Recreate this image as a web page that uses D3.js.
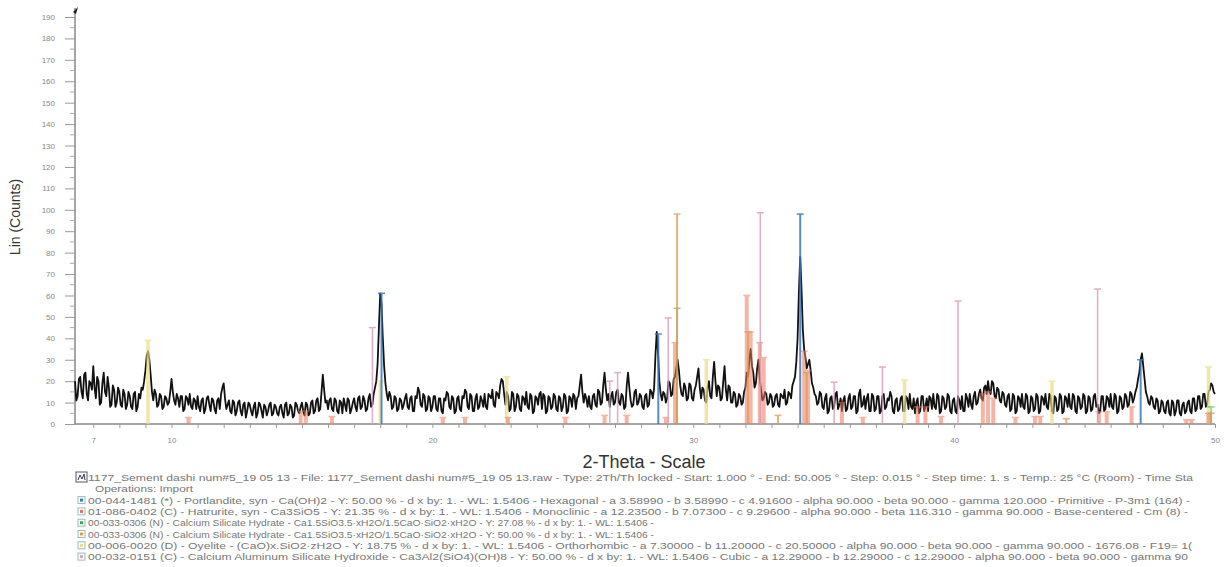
<!DOCTYPE html>
<html>
<head>
<meta charset="utf-8">
<script src="https://cdn.jsdelivr.net/npm/d3@7"></script>
<style>
  body { margin: 0; background: #fff; }
  text { font-family: "Liberation Sans", Arial, sans-serif; }
</style>
</head>
<body>
<div id="chart"></div>
<script>
const width = 1232, height = 567;

const twoThetaStart = 6.3, twoThetaStep = 0.1;
// counts at 6.3, 6.4, ... 50.0
const counts = [
  20, 13, 22, 12, 24, 11, 19,
  27, 12, 20, 10, 24, 13, 17, 9, 16, 10,
  15, 8, 14, 9, 13, 7, 15, 8, 12, 16,
  25, 34, 23, 11, 14, 9, 13, 8, 12, 10,
  21, 11, 14, 8, 13, 7, 12, 14, 7, 11,
  13, 6, 12, 7, 13, 6, 11, 5, 12, 14,
  19, 7, 11, 5, 10, 6, 11, 4, 10, 6,
  9, 4, 10, 5, 9, 3, 8, 6, 10, 5,
  8, 4, 9, 3, 10, 5, 8, 4, 9, 5,
  10, 4, 9, 5, 11, 6, 12, 7, 23, 10,
  7, 12, 6, 11, 5, 10, 12, 6, 11, 7,
  12, 6, 13, 8, 11, 7, 14, 9, 17, 28,
  61, 40, 19, 11, 13, 8, 12, 7, 11, 9,
  14, 7, 13, 6, 12, 15, 8, 13, 7, 12,
  8, 13, 6, 12, 5, 11, 14, 7, 12, 6,
  13, 6, 12, 15, 7, 13, 6, 14, 8, 11,
  14, 7, 13, 16, 8, 14, 18, 20, 9, 13,
  7, 14, 8, 13, 6, 12, 15, 7, 13, 6,
  12, 14, 7, 13, 6, 12, 8, 13, 6, 12,
  8, 13, 6, 12, 14, 7, 13, 23, 10, 12,
  13, 7, 14, 8, 15, 10, 24, 11, 8, 15,
  10, 16, 9, 13, 8, 24, 11, 9, 16, 10,
  13, 7, 14, 9, 15, 17, 43, 20, 11, 14,
  12, 19, 14, 22, 30, 18, 13, 17, 12, 18,
  11, 18, 26, 12, 16, 10, 20, 12, 29, 13,
  17, 12, 27, 11, 17, 10, 14, 9, 13, 10,
  17, 22, 35, 24, 19, 30, 16, 12, 14, 10,
  13, 9, 14, 8, 13, 16, 10, 14, 18, 22,
  40, 78, 44, 31, 28, 25, 17, 13, 10, 14,
  7, 14, 6, 13, 8, 15, 9, 6, 13, 7,
  14, 8, 13, 6, 16, 9, 7, 14, 6, 13,
  7, 13, 6, 14, 8, 11, 13, 5, 12, 7,
  13, 6, 12, 14, 7, 5, 12, 6, 13, 8,
  6, 12, 14, 7, 13, 6, 12, 8, 13, 5,
  12, 5, 11, 13, 6, 12, 14, 7, 15, 10,
  16, 11, 18, 20, 14, 19, 12, 16, 10, 14,
  8, 14, 7, 13, 6, 12, 14, 7, 13, 6,
  12, 7, 13, 6, 12, 14, 7, 13, 5, 12,
  7, 13, 6, 12, 14, 7, 13, 5, 12, 8,
  13, 6, 12, 7, 14, 9, 6, 13, 7, 12,
  14, 7, 13, 6, 12, 8, 13, 9, 14, 12,
  17, 24, 33, 21, 13, 9, 12, 7, 11, 6,
  10, 5, 11, 4, 10, 6, 11, 4, 10, 6,
  11, 5, 12, 7, 13, 8, 14, 9, 16, 18,
  14
];
// counts at 6.35, 6.45, ... 49.95
const countsHalf = [
  11, 21, 15, 23, 14, 20, 16,
  17, 22, 9, 19, 15, 22, 8, 18, 8, 17,
  9, 16, 7, 15, 8, 14, 6, 14, 17, 20,
  32, 30, 15, 16, 8, 14, 7, 13, 9, 15,
  15, 9, 12, 13, 6, 13, 9, 8, 12, 7,
  8, 11, 5, 12, 9, 12, 7, 11, 7, 17,
  12, 9, 6, 11, 4, 10, 6, 9, 3, 10,
  6, 8, 3, 10, 6, 9, 4, 9, 4, 9,
  5, 8, 5, 9, 4, 9, 3, 10, 6, 8,
  6, 10, 4, 10, 5, 11, 6, 15, 16, 11,
  11, 7, 12, 6, 11, 5, 9, 12, 5, 10,
  8, 12, 7, 13, 6, 12, 8, 14, 20, 45,
  56, 27, 14, 15, 7, 13, 6, 12, 7, 12,
  8, 12, 6, 13, 17, 9, 14, 6, 13, 6,
  13, 7, 12, 6, 12, 15, 8, 13, 5, 12,
  7, 13, 16, 8, 14, 6, 12, 7, 13, 8,
  8, 14, 12, 9, 15, 12, 21, 14, 15, 6,
  15, 6, 14, 7, 13, 9, 8, 14, 5, 13,
  9, 15, 14, 5, 13, 7, 14, 7, 13, 6,
  14, 5, 13, 8, 13, 12, 18, 15, 14, 8,
  8, 13, 9, 16, 9, 18, 16, 14, 13, 9,
  15, 10, 14, 7, 18, 17, 8, 15, 9, 14,
  8, 13, 8, 16, 12, 32, 33, 14, 15, 10,
  20, 13, 21, 26, 25, 14, 19, 11, 19, 12,
  16, 22, 17, 17, 11, 17, 13, 22, 20, 18,
  11, 20, 16, 18, 10, 15, 8, 14, 9, 15,
  24, 30, 27, 17, 26, 21, 11, 15, 9, 14,
  8, 13, 9, 14, 12, 9, 15, 12, 20, 29,
  62, 63, 35, 26, 30, 19, 14, 9, 15, 8,
  12, 5, 12, 7, 14, 7, 12, 11, 6, 12,
  7, 13, 5, 14, 8, 13, 12, 6, 14, 6,
  13, 5, 13, 7, 12, 15, 6, 11, 6, 12,
  6, 13, 7, 8, 12, 10, 5, 13, 6, 12,
  13, 7, 8, 14, 5, 13, 7, 14, 6, 11,
  6, 13, 7, 6, 14, 8, 9, 13, 9, 14,
  12, 17, 14, 15, 20, 13, 17, 11, 15, 9,
  13, 6, 14, 5, 13, 8, 8, 14, 5, 13,
  6, 14, 5, 13, 9, 8, 14, 6, 13, 6,
  14, 5, 13, 8, 8, 14, 6, 13, 7, 14,
  5, 13, 6, 13, 8, 5, 13, 6, 13, 8,
  8, 14, 5, 13, 7, 14, 8, 15, 10, 15,
  21, 30, 27, 15, 10, 13, 8, 12, 5, 11,
  6, 10, 5, 11, 4, 11, 5, 9, 5, 10,
  6, 12, 6, 13, 7, 14, 8, 15, 19, 15
];

// reference patterns: [2-Theta, height]
const portlandite = [[18.05, 61], [28.66, 42], [34.1, 98], [47.15, 30]];
const hatrurite = [[10.65, 3], [14.95, 6], [15.15, 6], [16.15, 3.5], [20.4, 3], [21.25, 3], [22.9, 3],
  [25.1, 3], [26.6, 4], [27.45, 4], [28.95, 3], [29.3, 38], [32.05, 60], [32.2, 43], [32.55, 38],
  [32.7, 31], [34.25, 34], [34.4, 25], [35.7, 10], [36.5, 3], [38.6, 8], [38.9, 8], [39.5, 3.5],
  [41.1, 14], [41.3, 15], [41.5, 12], [42.35, 3], [43.1, 3.5], [43.3, 3.5], [45.55, 5.7],
  [45.85, 5.7], [46.8, 8], [48.9, 2], [49.1, 2], [49.75, 5]];
const csh27 = [[29.38, 54], [49.85, 8]];
const csh50 = [[29.38, 98], [32.1, 43], [33.25, 4], [34.35, 24], [44.3, 2.5], [49.85, 5]];
const oyelite = [[9.1, 39], [18.0, 20], [22.85, 22], [30.5, 30], [38.1, 20.5], [43.75, 20], [49.75, 26.6]];
const cash = [[17.7, 45], [26.8, 20], [27.1, 24], [29.04, 49.5], [32.57, 98.6], [35.4, 19.5],
  [37.25, 26.6], [40.15, 57.4], [45.5, 63]];

const yTicks = d3.range(0, 191, 10);
const xTicks = d3.range(7, 51, 1);
const xLabels = [7, 10, 20, 30, 40, 50];

const legendLines = [
  "1177_Sement dashi num#5_19 05 13 - File: 1177_Sement dashi num#5_19 05 13.raw - Type: 2Th/Th locked - Start: 1.000 \u00b0 - End: 50.005 \u00b0 - Step: 0.015 \u00b0 - Step time: 1. s - Temp.: 25 \u00b0C (Room) - Time Sta",
  "Operations: Import",
  "00-044-1481 (*) - Portlandite, syn - Ca(OH)2 - Y: 50.00 % - d x by: 1. - WL: 1.5406 - Hexagonal - a 3.58990 - b 3.58990 - c 4.91600 - alpha 90.000 - beta 90.000 - gamma 120.000 - Primitive - P-3m1 (164) -",
  "01-086-0402 (C) - Hatrurite, syn - Ca3SiO5 - Y: 21.35 % - d x by: 1. - WL: 1.5406 - Monoclinic - a 12.23500 - b 7.07300 - c 9.29600 - alpha 90.000 - beta 116.310 - gamma 90.000 - Base-centered - Cm (8) -",
  "00-033-0306 (N) - Calcium Silicate Hydrate - Ca1.5SiO3.5\u00b7xH2O/1.5CaO\u00b7SiO2\u00b7xH2O - Y: 27.08 % - d x by: 1. - WL: 1.5406 -",
  "00-033-0306 (N) - Calcium Silicate Hydrate - Ca1.5SiO3.5\u00b7xH2O/1.5CaO\u00b7SiO2\u00b7xH2O - Y: 50.00 % - d x by: 1. - WL: 1.5406 -",
  "00-006-0020 (D) - Oyelite - (CaO)x.SiO2\u00b7zH2O - Y: 18.75 % - d x by: 1. - WL: 1.5406 - Orthorhombic - a 7.30000 - b 11.20000 - c 20.50000 - alpha 90.000 - beta 90.000 - gamma 90.000 - 1676.08 - F19=  1(",
  "00-032-0151 (C) - Calcium Aluminum Silicate Hydroxide - Ca3Al2(SiO4)(OH)8 - Y: 50.00 % - d x by: 1. - WL: 1.5406 - Cubic - a 12.29000 - b 12.29000 - c 12.29000 - alpha 90.000 - beta 90.000 - gamma 90"
];

const svg = d3.select("#chart").append("svg")
    .attr("width", width)
    .attr("height", height);

const x = d3.scaleLinear().domain([6.3, 50]).range([75, 1215]);
const y = d3.scaleLinear().domain([0, 190]).range([424, 17]);

// y axis with minor ticks every 5
const yAxis = svg.append("g")
    .attr("transform", `translate(${x(6.3)},0)`)
    .call(d3.axisLeft(y).tickValues(yTicks).tickSize(10).tickPadding(10));
yAxis.select(".domain").attr("stroke", "#888").attr("stroke-width", 1.5).attr("d", `M0,${y(0)}V8`);
yAxis.selectAll(".tick line").attr("stroke", "#999");
yAxis.selectAll(".tick text").attr("fill", "#888").style("font-size", "8px");
yAxis.selectAll(".minor")
    .data(d3.range(5, 190, 10))
    .enter().append("line")
    .attr("class", "minor")
    .attr("x1", -5).attr("x2", 0)
    .attr("y1", d => y(d)).attr("y2", d => y(d))
    .attr("stroke", "#aaa");
svg.append("path")
    .attr("d", `M${x(6.3) - 2},12L${x(6.3) + 3},7L${x(6.3) + 1},14Z`)
    .attr("fill", "#222");

const xAxis = svg.append("g")
    .attr("transform", `translate(0,${y(0)})`)
    .call(d3.axisBottom(x).tickValues(xTicks).tickSize(4).tickPadding(9)
        .tickFormat(d => xLabels.includes(d) ? d : ""));
xAxis.select(".domain").attr("stroke", "#888").attr("stroke-width", 1.5).attr("d", `M${x(6.3)},0H${x(50)}`);
xAxis.selectAll(".tick line").attr("stroke", "#999");
xAxis.selectAll(".tick text").attr("fill", "#888").style("font-size", "8px");

// measured scan, both halves of the grid merged in order
const scan = [];
counts.forEach((c, i) => {
    scan.push([twoThetaStart + i * twoThetaStep, c]);
    if (i < countsHalf.length) scan.push([twoThetaStart + (i + 0.5) * twoThetaStep, countsHalf[i]]);
});
svg.append("path")
    .datum(scan)
    .attr("fill", "none")
    .attr("stroke", "#111")
    .attr("stroke-width", 1.8)
    .attr("stroke-linejoin", "round")
    .attr("d", d3.line().x(d => x(d[0])).y(d => y(d[1])));

// stick patterns of the matched phases
function drawSticks(data, color, w, opacity) {
    const g = svg.append("g").attr("opacity", opacity);
    g.selectAll("line.stick")
        .data(data)
        .enter().append("line")
        .attr("x1", d => x(d[0])).attr("x2", d => x(d[0]))
        .attr("y1", y(0)).attr("y2", d => y(d[1]))
        .attr("stroke", color).attr("stroke-width", w);
    g.selectAll("line.cap")
        .data(data)
        .enter().append("line")
        .attr("x1", d => x(d[0]) - 3.5).attr("x2", d => x(d[0]) + 3.5)
        .attr("y1", d => y(d[1])).attr("y2", d => y(d[1]))
        .attr("stroke", color).attr("stroke-width", 1.5);
}
drawSticks(oyelite, "#eadc82", 3.5, 0.7);
drawSticks(hatrurite, "#ec7a5e", 4, 0.55);
drawSticks(csh27, "#3cb043", 1.5, 0.6);
drawSticks(csh50, "#d89a58", 2, 0.75);
drawSticks(cash, "#d89ab8", 1.5, 0.8);
drawSticks(portlandite, "#3a78c0", 2, 0.85);

// axis titles
svg.append("text")
    .attr("transform", `translate(20,217) rotate(-90)`)
    .attr("text-anchor", "middle")
    .attr("fill", "#333")
    .style("font-size", "14px")
    .text("Lin (Counts)");
svg.append("text")
    .attr("x", 644).attr("y", 468)
    .attr("text-anchor", "middle")
    .attr("fill", "#333")
    .style("font-size", "18px")
    .text("2-Theta - Scale");

// legend block
const iconColors = [null, null, "#3a78c0", "#e8705a", "#3cb043", "#e89a48", "#eadc82", "#e0a0c0"];
const lineWidths = [1105, 98, 1102, 1100, 566, 566, 1104, 1100];
const legend = svg.append("g");
legendLines.forEach((t, i) => {
    const ly = 481 + i * 11.3;
    legend.append("text")
        .attr("x", i === 1 ? 95 : 88).attr("y", ly)
        .attr("fill", "#777")
        .attr("textLength", lineWidths[i])
        .attr("lengthAdjust", "spacingAndGlyphs")
        .style("font-size", "9.5px")
        .text(t);
    if (iconColors[i]) {
        legend.append("rect")
            .attr("x", 78).attr("y", ly - 7).attr("width", 7).attr("height", 7)
            .attr("fill", "#fff").attr("stroke", "#9bb");
        legend.append("rect")
            .attr("x", 80).attr("y", ly - 5).attr("width", 3).attr("height", 3)
            .attr("fill", iconColors[i]);
    }
});
legend.append("rect")
    .attr("x", 76).attr("y", 472).attr("width", 11).attr("height", 10)
    .attr("fill", "#fff").attr("stroke", "#556");
legend.append("path")
    .attr("d", "M78,480L80,475L82,479L84,474L85,480")
    .attr("fill", "none").attr("stroke", "#335").attr("stroke-width", 1);
</script>
</body>
</html>
